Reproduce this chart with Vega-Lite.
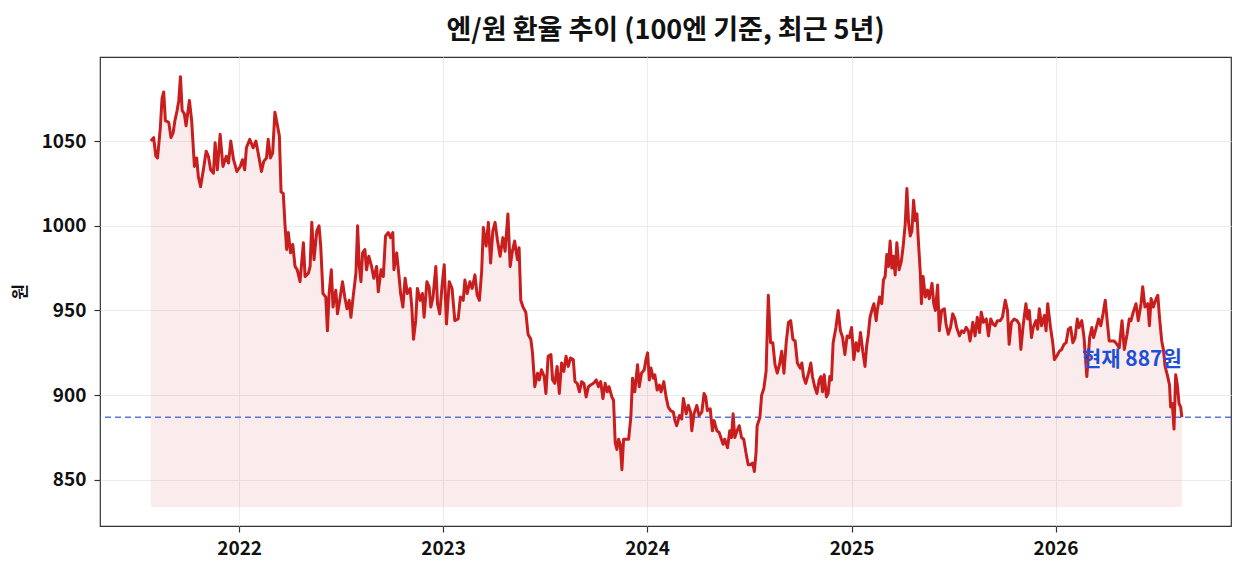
{
  "$schema": "https://vega.github.io/schema/vega-lite/v6.json",
  "autosize": "none",
  "padding": {"left": 100, "top": 57, "right": 14, "bottom": 48},
  "width": 1131,
  "height": 469,
  "background": "white",
  "title": {
    "text": "엔/원 환율 추이 (100엔 기준, 최근 5년)",
    "font": "Noto Sans CJK KR",
    "fontSize": 27,
    "fontWeight": "bold",
    "color": "#111111",
    "anchor": "middle",
    "frame": "group",
    "offset": 12
  },
  "config": {
    "font": "Noto Sans CJK KR",
    "view": {"stroke": "#333333", "strokeWidth": 1.2},
    "axis": {
      "labelFont": "Noto Sans CJK KR",
      "labelFontSize": 19,
      "labelFontWeight": "bold",
      "labelColor": "#111111",
      "tickColor": "#333333",
      "tickSize": 6,
      "tickWidth": 1.2,
      "domain": false,
      "gridColor": "#ececec",
      "gridWidth": 1
    }
  },
  "datasets": {
    "fx": [
      {"d": "2021-07-27", "v": 1050}, {"d": "2021-08-01", "v": 1052}, {"d": "2021-08-05", "v": 1041},
      {"d": "2021-08-08", "v": 1040}, {"d": "2021-08-13", "v": 1058}, {"d": "2021-08-16", "v": 1075},
      {"d": "2021-08-19", "v": 1079}, {"d": "2021-08-22", "v": 1062}, {"d": "2021-08-28", "v": 1061},
      {"d": "2021-09-01", "v": 1052}, {"d": "2021-09-05", "v": 1055}, {"d": "2021-09-08", "v": 1062},
      {"d": "2021-09-12", "v": 1068}, {"d": "2021-09-15", "v": 1074}, {"d": "2021-09-18", "v": 1088},
      {"d": "2021-09-21", "v": 1068}, {"d": "2021-09-25", "v": 1066}, {"d": "2021-09-28", "v": 1059},
      {"d": "2021-10-04", "v": 1074}, {"d": "2021-10-08", "v": 1062}, {"d": "2021-10-13", "v": 1035},
      {"d": "2021-10-17", "v": 1040}, {"d": "2021-10-20", "v": 1029}, {"d": "2021-10-24", "v": 1023},
      {"d": "2021-10-29", "v": 1033}, {"d": "2021-11-03", "v": 1044}, {"d": "2021-11-07", "v": 1041},
      {"d": "2021-11-11", "v": 1033}, {"d": "2021-11-16", "v": 1031}, {"d": "2021-11-19", "v": 1049},
      {"d": "2021-11-23", "v": 1033}, {"d": "2021-11-28", "v": 1054}, {"d": "2021-12-03", "v": 1035},
      {"d": "2021-12-09", "v": 1041}, {"d": "2021-12-13", "v": 1037}, {"d": "2021-12-17", "v": 1050},
      {"d": "2021-12-22", "v": 1039}, {"d": "2021-12-28", "v": 1032}, {"d": "2022-01-03", "v": 1035},
      {"d": "2022-01-07", "v": 1039}, {"d": "2022-01-11", "v": 1033}, {"d": "2022-01-14", "v": 1046},
      {"d": "2022-01-20", "v": 1051}, {"d": "2022-01-26", "v": 1046}, {"d": "2022-01-31", "v": 1050},
      {"d": "2022-02-04", "v": 1043}, {"d": "2022-02-10", "v": 1032}, {"d": "2022-02-14", "v": 1038},
      {"d": "2022-02-19", "v": 1040}, {"d": "2022-02-22", "v": 1051}, {"d": "2022-02-26", "v": 1040},
      {"d": "2022-03-02", "v": 1043}, {"d": "2022-03-06", "v": 1067}, {"d": "2022-03-09", "v": 1062},
      {"d": "2022-03-14", "v": 1053}, {"d": "2022-03-17", "v": 1020}, {"d": "2022-03-21", "v": 1019},
      {"d": "2022-03-24", "v": 1001}, {"d": "2022-03-27", "v": 986}, {"d": "2022-03-30", "v": 996},
      {"d": "2022-04-03", "v": 984}, {"d": "2022-04-07", "v": 989}, {"d": "2022-04-11", "v": 976},
      {"d": "2022-04-15", "v": 974}, {"d": "2022-04-20", "v": 967}, {"d": "2022-04-26", "v": 990},
      {"d": "2022-04-29", "v": 970}, {"d": "2022-05-05", "v": 972}, {"d": "2022-05-08", "v": 976},
      {"d": "2022-05-11", "v": 1002}, {"d": "2022-05-15", "v": 980}, {"d": "2022-05-20", "v": 997},
      {"d": "2022-05-24", "v": 1000}, {"d": "2022-05-27", "v": 988}, {"d": "2022-05-31", "v": 960},
      {"d": "2022-06-05", "v": 958}, {"d": "2022-06-08", "v": 938}, {"d": "2022-06-11", "v": 960},
      {"d": "2022-06-15", "v": 974}, {"d": "2022-06-18", "v": 952}, {"d": "2022-06-23", "v": 962},
      {"d": "2022-06-26", "v": 948}, {"d": "2022-06-30", "v": 956}, {"d": "2022-07-05", "v": 967},
      {"d": "2022-07-09", "v": 958}, {"d": "2022-07-13", "v": 951}, {"d": "2022-07-17", "v": 956},
      {"d": "2022-07-20", "v": 946}, {"d": "2022-07-24", "v": 958}, {"d": "2022-07-29", "v": 972},
      {"d": "2022-08-01", "v": 1000}, {"d": "2022-08-04", "v": 976}, {"d": "2022-08-07", "v": 967},
      {"d": "2022-08-10", "v": 984}, {"d": "2022-08-14", "v": 986}, {"d": "2022-08-17", "v": 974},
      {"d": "2022-08-21", "v": 982}, {"d": "2022-08-26", "v": 976}, {"d": "2022-08-30", "v": 969},
      {"d": "2022-09-04", "v": 976}, {"d": "2022-09-07", "v": 961}, {"d": "2022-09-12", "v": 974},
      {"d": "2022-09-16", "v": 970}, {"d": "2022-09-20", "v": 994}, {"d": "2022-09-25", "v": 996},
      {"d": "2022-09-29", "v": 993}, {"d": "2022-10-03", "v": 996}, {"d": "2022-10-05", "v": 974},
      {"d": "2022-10-10", "v": 984}, {"d": "2022-10-13", "v": 974}, {"d": "2022-10-17", "v": 960},
      {"d": "2022-10-21", "v": 952}, {"d": "2022-10-25", "v": 969}, {"d": "2022-10-29", "v": 960},
      {"d": "2022-11-03", "v": 963}, {"d": "2022-11-06", "v": 952}, {"d": "2022-11-09", "v": 933},
      {"d": "2022-11-13", "v": 944}, {"d": "2022-11-16", "v": 963}, {"d": "2022-11-21", "v": 956},
      {"d": "2022-11-25", "v": 960}, {"d": "2022-11-28", "v": 946}, {"d": "2022-12-03", "v": 967},
      {"d": "2022-12-07", "v": 964}, {"d": "2022-12-10", "v": 952}, {"d": "2022-12-14", "v": 958},
      {"d": "2022-12-19", "v": 976}, {"d": "2022-12-22", "v": 954}, {"d": "2022-12-26", "v": 948},
      {"d": "2022-12-30", "v": 964}, {"d": "2023-01-03", "v": 977}, {"d": "2023-01-07", "v": 942},
      {"d": "2023-01-12", "v": 967}, {"d": "2023-01-17", "v": 963}, {"d": "2023-01-22", "v": 944},
      {"d": "2023-01-28", "v": 945}, {"d": "2023-02-01", "v": 958}, {"d": "2023-02-06", "v": 956},
      {"d": "2023-02-09", "v": 968}, {"d": "2023-02-13", "v": 960}, {"d": "2023-02-18", "v": 967},
      {"d": "2023-02-22", "v": 963}, {"d": "2023-02-27", "v": 971}, {"d": "2023-03-03", "v": 959},
      {"d": "2023-03-07", "v": 956}, {"d": "2023-03-11", "v": 973}, {"d": "2023-03-14", "v": 999},
      {"d": "2023-03-19", "v": 988}, {"d": "2023-03-23", "v": 1002}, {"d": "2023-03-27", "v": 978},
      {"d": "2023-03-31", "v": 997}, {"d": "2023-04-04", "v": 1002}, {"d": "2023-04-08", "v": 992},
      {"d": "2023-04-13", "v": 982}, {"d": "2023-04-18", "v": 993}, {"d": "2023-04-22", "v": 985},
      {"d": "2023-04-27", "v": 1007}, {"d": "2023-05-01", "v": 976}, {"d": "2023-05-05", "v": 985},
      {"d": "2023-05-09", "v": 991}, {"d": "2023-05-14", "v": 980}, {"d": "2023-05-17", "v": 987},
      {"d": "2023-05-20", "v": 956}, {"d": "2023-05-24", "v": 952}, {"d": "2023-05-29", "v": 949},
      {"d": "2023-06-02", "v": 936}, {"d": "2023-06-07", "v": 933}, {"d": "2023-06-10", "v": 925},
      {"d": "2023-06-14", "v": 905}, {"d": "2023-06-19", "v": 913}, {"d": "2023-06-22", "v": 909},
      {"d": "2023-06-26", "v": 915}, {"d": "2023-07-01", "v": 911}, {"d": "2023-07-04", "v": 901},
      {"d": "2023-07-08", "v": 923}, {"d": "2023-07-13", "v": 924}, {"d": "2023-07-16", "v": 909},
      {"d": "2023-07-20", "v": 907}, {"d": "2023-07-24", "v": 917}, {"d": "2023-07-28", "v": 901},
      {"d": "2023-08-01", "v": 919}, {"d": "2023-08-05", "v": 914}, {"d": "2023-08-09", "v": 923},
      {"d": "2023-08-13", "v": 917}, {"d": "2023-08-17", "v": 922}, {"d": "2023-08-22", "v": 921},
      {"d": "2023-08-25", "v": 908}, {"d": "2023-08-29", "v": 907}, {"d": "2023-09-02", "v": 902},
      {"d": "2023-09-06", "v": 908}, {"d": "2023-09-10", "v": 907}, {"d": "2023-09-14", "v": 899},
      {"d": "2023-09-18", "v": 905}, {"d": "2023-09-22", "v": 906}, {"d": "2023-09-27", "v": 907},
      {"d": "2023-10-02", "v": 909}, {"d": "2023-10-06", "v": 905}, {"d": "2023-10-10", "v": 908},
      {"d": "2023-10-14", "v": 898}, {"d": "2023-10-18", "v": 907}, {"d": "2023-10-22", "v": 902},
      {"d": "2023-10-25", "v": 905}, {"d": "2023-10-30", "v": 899}, {"d": "2023-11-02", "v": 897},
      {"d": "2023-11-05", "v": 872}, {"d": "2023-11-08", "v": 868}, {"d": "2023-11-11", "v": 874},
      {"d": "2023-11-14", "v": 871}, {"d": "2023-11-17", "v": 856}, {"d": "2023-11-20", "v": 874},
      {"d": "2023-11-24", "v": 874}, {"d": "2023-11-29", "v": 874}, {"d": "2023-12-03", "v": 887},
      {"d": "2023-12-06", "v": 910}, {"d": "2023-12-10", "v": 902}, {"d": "2023-12-15", "v": 918},
      {"d": "2023-12-18", "v": 905}, {"d": "2023-12-22", "v": 913}, {"d": "2023-12-27", "v": 915},
      {"d": "2023-12-30", "v": 921}, {"d": "2024-01-02", "v": 925}, {"d": "2024-01-05", "v": 909},
      {"d": "2024-01-08", "v": 916}, {"d": "2024-01-12", "v": 910}, {"d": "2024-01-15", "v": 912},
      {"d": "2024-01-19", "v": 903}, {"d": "2024-01-23", "v": 906}, {"d": "2024-01-26", "v": 902},
      {"d": "2024-01-31", "v": 908}, {"d": "2024-02-04", "v": 899}, {"d": "2024-02-08", "v": 893},
      {"d": "2024-02-12", "v": 891}, {"d": "2024-02-17", "v": 890}, {"d": "2024-02-20", "v": 885},
      {"d": "2024-02-23", "v": 882}, {"d": "2024-02-28", "v": 888}, {"d": "2024-03-03", "v": 886},
      {"d": "2024-03-06", "v": 898}, {"d": "2024-03-11", "v": 889}, {"d": "2024-03-15", "v": 894},
      {"d": "2024-03-19", "v": 890}, {"d": "2024-03-21", "v": 879}, {"d": "2024-03-25", "v": 889},
      {"d": "2024-03-30", "v": 894}, {"d": "2024-04-03", "v": 888}, {"d": "2024-04-08", "v": 890},
      {"d": "2024-04-12", "v": 901}, {"d": "2024-04-15", "v": 899}, {"d": "2024-04-18", "v": 891},
      {"d": "2024-04-23", "v": 892}, {"d": "2024-04-27", "v": 879}, {"d": "2024-04-30", "v": 885},
      {"d": "2024-05-05", "v": 879}, {"d": "2024-05-09", "v": 878}, {"d": "2024-05-12", "v": 875},
      {"d": "2024-05-16", "v": 871}, {"d": "2024-05-19", "v": 874}, {"d": "2024-05-24", "v": 869},
      {"d": "2024-05-28", "v": 879}, {"d": "2024-05-31", "v": 875}, {"d": "2024-06-03", "v": 889},
      {"d": "2024-06-06", "v": 875}, {"d": "2024-06-10", "v": 879}, {"d": "2024-06-14", "v": 882},
      {"d": "2024-06-18", "v": 875}, {"d": "2024-06-22", "v": 874}, {"d": "2024-06-26", "v": 866},
      {"d": "2024-06-30", "v": 859}, {"d": "2024-07-03", "v": 859}, {"d": "2024-07-08", "v": 860},
      {"d": "2024-07-11", "v": 855}, {"d": "2024-07-14", "v": 866}, {"d": "2024-07-16", "v": 882},
      {"d": "2024-07-21", "v": 887}, {"d": "2024-07-24", "v": 900}, {"d": "2024-07-28", "v": 904},
      {"d": "2024-08-01", "v": 914}, {"d": "2024-08-05", "v": 959}, {"d": "2024-08-09", "v": 931},
      {"d": "2024-08-13", "v": 931}, {"d": "2024-08-17", "v": 918}, {"d": "2024-08-21", "v": 913},
      {"d": "2024-08-25", "v": 918}, {"d": "2024-08-29", "v": 926}, {"d": "2024-09-02", "v": 913},
      {"d": "2024-09-06", "v": 931}, {"d": "2024-09-10", "v": 943}, {"d": "2024-09-14", "v": 944},
      {"d": "2024-09-18", "v": 933}, {"d": "2024-09-22", "v": 932}, {"d": "2024-09-26", "v": 919},
      {"d": "2024-10-01", "v": 916}, {"d": "2024-10-04", "v": 919}, {"d": "2024-10-07", "v": 911},
      {"d": "2024-10-11", "v": 907}, {"d": "2024-10-16", "v": 913}, {"d": "2024-10-20", "v": 919},
      {"d": "2024-10-23", "v": 911}, {"d": "2024-10-27", "v": 905}, {"d": "2024-10-31", "v": 901},
      {"d": "2024-11-04", "v": 909}, {"d": "2024-11-07", "v": 911}, {"d": "2024-11-10", "v": 902},
      {"d": "2024-11-13", "v": 912}, {"d": "2024-11-17", "v": 899}, {"d": "2024-11-20", "v": 901},
      {"d": "2024-11-23", "v": 911}, {"d": "2024-11-26", "v": 909}, {"d": "2024-11-29", "v": 931},
      {"d": "2024-12-04", "v": 940}, {"d": "2024-12-08", "v": 950}, {"d": "2024-12-12", "v": 938},
      {"d": "2024-12-16", "v": 934}, {"d": "2024-12-20", "v": 924}, {"d": "2024-12-24", "v": 935},
      {"d": "2024-12-28", "v": 934}, {"d": "2025-01-01", "v": 940}, {"d": "2025-01-05", "v": 921},
      {"d": "2025-01-09", "v": 931}, {"d": "2025-01-13", "v": 926}, {"d": "2025-01-17", "v": 937},
      {"d": "2025-01-21", "v": 926}, {"d": "2025-01-25", "v": 917}, {"d": "2025-01-28", "v": 929},
      {"d": "2025-01-31", "v": 936}, {"d": "2025-02-03", "v": 946}, {"d": "2025-02-07", "v": 951},
      {"d": "2025-02-10", "v": 954}, {"d": "2025-02-14", "v": 944}, {"d": "2025-02-16", "v": 950},
      {"d": "2025-02-20", "v": 958}, {"d": "2025-02-24", "v": 954}, {"d": "2025-02-27", "v": 968},
      {"d": "2025-03-02", "v": 970}, {"d": "2025-03-05", "v": 983}, {"d": "2025-03-08", "v": 976},
      {"d": "2025-03-11", "v": 991}, {"d": "2025-03-14", "v": 975}, {"d": "2025-03-17", "v": 982},
      {"d": "2025-03-20", "v": 971}, {"d": "2025-03-23", "v": 990}, {"d": "2025-03-27", "v": 974},
      {"d": "2025-03-31", "v": 979}, {"d": "2025-04-03", "v": 987}, {"d": "2025-04-07", "v": 1001},
      {"d": "2025-04-10", "v": 1022}, {"d": "2025-04-13", "v": 1002}, {"d": "2025-04-16", "v": 994},
      {"d": "2025-04-19", "v": 997}, {"d": "2025-04-22", "v": 1015}, {"d": "2025-04-25", "v": 1003},
      {"d": "2025-04-28", "v": 1007}, {"d": "2025-04-30", "v": 994}, {"d": "2025-05-04", "v": 972},
      {"d": "2025-05-06", "v": 954}, {"d": "2025-05-09", "v": 970}, {"d": "2025-05-13", "v": 958},
      {"d": "2025-05-17", "v": 962}, {"d": "2025-05-20", "v": 957}, {"d": "2025-05-25", "v": 966},
      {"d": "2025-05-28", "v": 954}, {"d": "2025-05-31", "v": 950}, {"d": "2025-06-04", "v": 965},
      {"d": "2025-06-07", "v": 938}, {"d": "2025-06-11", "v": 950}, {"d": "2025-06-16", "v": 951},
      {"d": "2025-06-19", "v": 942}, {"d": "2025-06-23", "v": 936}, {"d": "2025-06-27", "v": 940},
      {"d": "2025-07-01", "v": 948}, {"d": "2025-07-05", "v": 945}, {"d": "2025-07-08", "v": 940},
      {"d": "2025-07-13", "v": 935}, {"d": "2025-07-17", "v": 938}, {"d": "2025-07-21", "v": 937},
      {"d": "2025-07-25", "v": 940}, {"d": "2025-07-29", "v": 938}, {"d": "2025-08-01", "v": 932},
      {"d": "2025-08-06", "v": 943}, {"d": "2025-08-10", "v": 935}, {"d": "2025-08-14", "v": 946},
      {"d": "2025-08-18", "v": 937}, {"d": "2025-08-21", "v": 949}, {"d": "2025-08-25", "v": 943},
      {"d": "2025-08-30", "v": 945}, {"d": "2025-09-03", "v": 935}, {"d": "2025-09-07", "v": 945},
      {"d": "2025-09-11", "v": 942}, {"d": "2025-09-15", "v": 941}, {"d": "2025-09-19", "v": 944},
      {"d": "2025-09-24", "v": 944}, {"d": "2025-09-28", "v": 946}, {"d": "2025-10-03", "v": 956},
      {"d": "2025-10-07", "v": 950}, {"d": "2025-10-10", "v": 930}, {"d": "2025-10-14", "v": 943},
      {"d": "2025-10-19", "v": 945}, {"d": "2025-10-24", "v": 944}, {"d": "2025-10-28", "v": 942},
      {"d": "2025-10-31", "v": 927}, {"d": "2025-11-04", "v": 941}, {"d": "2025-11-09", "v": 954},
      {"d": "2025-11-12", "v": 945}, {"d": "2025-11-15", "v": 950}, {"d": "2025-11-19", "v": 934},
      {"d": "2025-11-22", "v": 940}, {"d": "2025-11-27", "v": 944}, {"d": "2025-11-30", "v": 939},
      {"d": "2025-12-03", "v": 951}, {"d": "2025-12-07", "v": 941}, {"d": "2025-12-12", "v": 947},
      {"d": "2025-12-15", "v": 938}, {"d": "2025-12-18", "v": 954}, {"d": "2025-12-23", "v": 940},
      {"d": "2025-12-27", "v": 931}, {"d": "2025-12-30", "v": 921}, {"d": "2026-01-03", "v": 923},
      {"d": "2026-01-08", "v": 926}, {"d": "2026-01-12", "v": 927}, {"d": "2026-01-16", "v": 930},
      {"d": "2026-01-20", "v": 931}, {"d": "2026-01-24", "v": 939}, {"d": "2026-01-28", "v": 940},
      {"d": "2026-02-01", "v": 931}, {"d": "2026-02-05", "v": 934}, {"d": "2026-02-09", "v": 945},
      {"d": "2026-02-12", "v": 940}, {"d": "2026-02-17", "v": 944}, {"d": "2026-02-21", "v": 934},
      {"d": "2026-02-26", "v": 911}, {"d": "2026-03-03", "v": 934}, {"d": "2026-03-07", "v": 940},
      {"d": "2026-03-10", "v": 934}, {"d": "2026-03-15", "v": 940}, {"d": "2026-03-19", "v": 945},
      {"d": "2026-03-23", "v": 941}, {"d": "2026-03-27", "v": 948}, {"d": "2026-03-31", "v": 956},
      {"d": "2026-04-04", "v": 942}, {"d": "2026-04-07", "v": 932}, {"d": "2026-04-12", "v": 932},
      {"d": "2026-04-16", "v": 932}, {"d": "2026-04-21", "v": 930}, {"d": "2026-04-25", "v": 928},
      {"d": "2026-04-30", "v": 944}, {"d": "2026-05-04", "v": 927}, {"d": "2026-05-09", "v": 936},
      {"d": "2026-05-13", "v": 945}, {"d": "2026-05-16", "v": 944}, {"d": "2026-05-20", "v": 949},
      {"d": "2026-05-25", "v": 954}, {"d": "2026-05-29", "v": 944}, {"d": "2026-06-03", "v": 954},
      {"d": "2026-06-06", "v": 964}, {"d": "2026-06-10", "v": 952}, {"d": "2026-06-15", "v": 954},
      {"d": "2026-06-18", "v": 941}, {"d": "2026-06-21", "v": 957}, {"d": "2026-06-25", "v": 952},
      {"d": "2026-06-30", "v": 957}, {"d": "2026-07-03", "v": 959}, {"d": "2026-07-06", "v": 946},
      {"d": "2026-07-10", "v": 932}, {"d": "2026-07-13", "v": 927}, {"d": "2026-07-16", "v": 917},
      {"d": "2026-07-20", "v": 912}, {"d": "2026-07-24", "v": 906}, {"d": "2026-07-26", "v": 893},
      {"d": "2026-07-29", "v": 895}, {"d": "2026-08-01", "v": 880}, {"d": "2026-08-04", "v": 912},
      {"d": "2026-08-07", "v": 906}, {"d": "2026-08-10", "v": 895}, {"d": "2026-08-13", "v": 893},
      {"d": "2026-08-15", "v": 887}
    ],
    "now": [{"d": "2026-08-15", "v": 887, "label": "현재 887원", "labelY": 921}]
  },
  "layer": [
    {
      "data": {"name": "fx"},
      "mark": {"type": "area", "color": "#c62828", "opacity": 0.09, "clip": true},
      "encoding": {
        "x": {
          "field": "d",
          "type": "temporal",
          "title": null,
          "scale": {"domain": ["2021-04-27", "2026-11-11"]},
          "axis": {"format": "%Y", "tickCount": "year", "grid": true, "labelPadding": 7}
        },
        "y": {
          "field": "v",
          "type": "quantitative",
          "title": "원",
          "scale": {"domain": [822.8, 1099.6], "nice": false, "zero": false},
          "axis": {
            "values": [850, 900, 950, 1000, 1050],
            "format": "d",
            "grid": true,
            "labelPadding": 8,
            "titleFont": "Noto Sans CJK KR",
            "titleFontSize": 17,
            "titleFontWeight": "bold",
            "titleColor": "#111111",
            "titlePadding": 12
          }
        },
        "y2": {"datum": 834}
      }
    },
    {
      "data": {"name": "now"},
      "mark": {"type": "rule", "color": "#3a5fd9", "strokeWidth": 1.4, "strokeDash": [6, 4], "opacity": 0.85},
      "encoding": {
        "y": {"field": "v", "type": "quantitative"}
      }
    },
    {
      "data": {"name": "fx"},
      "mark": {"type": "line", "color": "#c81e1e", "strokeWidth": 3, "strokeJoin": "round", "clip": true},
      "encoding": {
        "x": {"field": "d", "type": "temporal"},
        "y": {"field": "v", "type": "quantitative"}
      }
    },
    {
      "data": {"name": "now"},
      "mark": {
        "type": "text",
        "align": "right",
        "baseline": "middle",
        "font": "Noto Sans CJK KR",
        "fontSize": 21,
        "fontWeight": "bold",
        "color": "#1f4fd6"
      },
      "encoding": {
        "x": {"field": "d", "type": "temporal"},
        "y": {"field": "labelY", "type": "quantitative"},
        "text": {"field": "label"}
      }
    }
  ]
}
